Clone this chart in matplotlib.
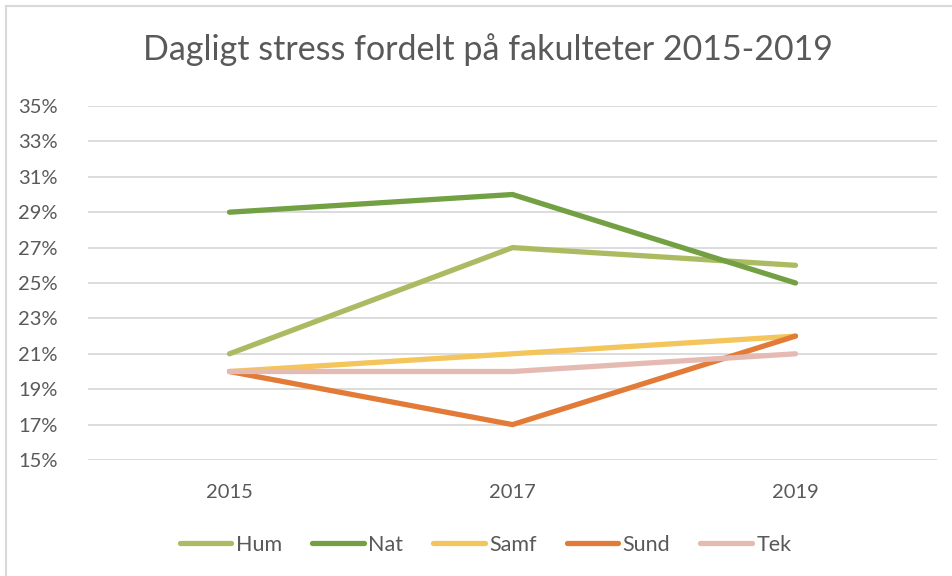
import numpy as np
import matplotlib.pyplot as plt
from matplotlib.lines import Line2D
from matplotlib.ticker import PercentFormatter

# Data
years = ['2015', '2017', '2019']
hum = [21, 27, 26]
nat = [29, 30, 25]
samf = [20, 21, 22]
sund = [20, 17, 22]
tek = [20, 20, 21]

series_names = ['Hum', 'Nat', 'Samf', 'Sund', 'Tek']
series_values = [hum, nat, samf, sund, tek]
colors = ['#ABBB62', '#72A042', '#F4C55A', '#E17B37', '#E4BAB2']

plt.rcParams['font.family'] = ['Lato', 'DejaVu Sans']

fig = plt.figure(figsize=(9.52, 5.76), dpi=100)
ax = fig.add_axes([88 / 952, 1 - 460 / 576, (937 - 88) / 952, (460 - 106) / 576])

x = np.arange(len(years))
for name, vals, col in zip(series_names, series_values, colors):
    ax.plot(x, vals, color=col, linewidth=3.8, solid_capstyle='round', label=name)

ax.set_xlim(-0.5, len(years) - 0.5)
ax.set_ylim(15, 35)
ax.set_yticks(np.arange(15, 36, 2))
ax.yaxis.set_major_formatter(PercentFormatter(decimals=0))
ax.set_xticks(x)
ax.set_xticklabels(years)
ax.grid(axis='y', color='#D9D9D9', linewidth=1.3)
ax.set_axisbelow(True)
for s in ax.spines.values():
    s.set_visible(False)
ax.tick_params(axis='both', length=0, labelsize=14.5, labelcolor='#595959')
ax.tick_params(axis='y', pad=22)
ax.tick_params(axis='x', pad=17)

fig.text(0.513, 1 - 50 / 576, 'Dagligt stress fordelt på fakulteter 2015-2019',
         ha='center', va='center', fontsize=24.5, color='#595959')

fig.legend(loc='center', bbox_to_anchor=(0.51, 1 - 545 / 576), ncol=5, frameon=False,
           fontsize=15.5, labelcolor='#595959', handlelength=2.4, handletextpad=0.2,
           columnspacing=1.4)

# chart border (Excel chart area)
fig.add_artist(Line2D([6 / 952, 6 / 952], [0, 1 - 6 / 576], color='#D9D9D9', linewidth=1.5))
fig.add_artist(Line2D([6 / 952, 1], [1 - 6 / 576, 1 - 6 / 576], color='#D9D9D9', linewidth=1.5))

fig.savefig('out.png', dpi=100)
